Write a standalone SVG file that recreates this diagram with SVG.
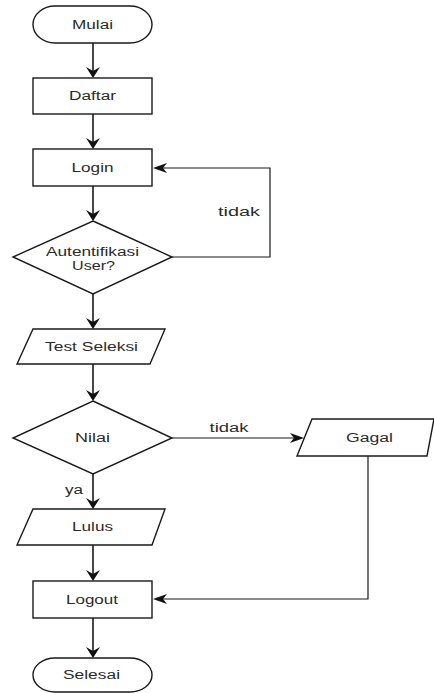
<svg xmlns="http://www.w3.org/2000/svg" width="434" height="693" viewBox="0 0 434 693">
  <style>
    .shape { fill: #ffffff; stroke: #1a1a1a; stroke-width: 1.4; }
    .label { font-family: "Liberation Sans", Arial, sans-serif; font-size: 12px; fill: #2b2b2b; text-anchor: middle; }
    .edge { fill: none; stroke: #1a1a1a; stroke-width: 1.6; }
    .edge-h { fill: none; stroke: #1a1a1a; stroke-width: 1.2; }
    .head { fill: #111111; stroke: none; }
  </style>
  <defs>
    <!-- notched arrowheads, tip at origin -->
    <path id="head-down" class="head" d="M0,0 L-7,-11 L0,-7 L7,-11 Z"/>
    <path id="head-left" class="head" d="M0,0 L14,-5 L10,0 L14,5 Z"/>
    <path id="head-right" class="head" d="M0,0 L-14,-5 L-10,0 L-14,5 Z"/>
  </defs>

  <g id="connectors">
    <line class="edge" x1="93" y1="43" x2="93" y2="74"/>
    <use href="#head-down" x="93" y="78"/>
    <line class="edge" x1="93" y1="114" x2="93" y2="145"/>
    <use href="#head-down" x="93" y="149"/>
    <line class="edge" x1="93" y1="186" x2="93" y2="217"/>
    <use href="#head-down" x="93" y="221"/>
    <polyline class="edge-h" points="172,257 270,257 270,168 163,168"/>
    <use href="#head-left" x="153" y="168"/>
    <text class="label" x="239" y="216" textLength="42" lengthAdjust="spacingAndGlyphs">tidak</text>
    <line class="edge" x1="93" y1="294" x2="93" y2="325"/>
    <use href="#head-down" x="93" y="329"/>
    <line class="edge" x1="93" y1="364" x2="93" y2="397"/>
    <use href="#head-down" x="93" y="401"/>
    <line class="edge-h" x1="172" y1="438" x2="294" y2="438"/>
    <use href="#head-right" x="304" y="438"/>
    <text class="label" x="229" y="432" textLength="39" lengthAdjust="spacingAndGlyphs">tidak</text>
    <line class="edge" x1="93" y1="474" x2="93" y2="505"/>
    <use href="#head-down" x="93" y="509"/>
    <text class="label" x="74" y="494" textLength="18" lengthAdjust="spacingAndGlyphs">ya</text>
    <line class="edge" x1="93" y1="545" x2="93" y2="577"/>
    <use href="#head-down" x="93" y="581"/>
    <polyline class="edge-h" points="368,456 368,599 163,599"/>
    <use href="#head-left" x="153" y="599"/>
    <line class="edge" x1="93" y1="618" x2="93" y2="654"/>
    <use href="#head-down" x="93" y="658"/>
  </g>

  <g id="mulai">
    <rect class="shape" x="33" y="6" width="119" height="37" rx="22" ry="18.5"/>
    <text class="label" x="92.5" y="29" textLength="41" lengthAdjust="spacingAndGlyphs">Mulai</text>
  </g>
  <g id="daftar">
    <rect class="shape" x="33" y="78" width="119" height="36"/>
    <text class="label" x="92.5" y="100" textLength="47" lengthAdjust="spacingAndGlyphs">Daftar</text>
  </g>
  <g id="login">
    <rect class="shape" x="33" y="149" width="119" height="37"/>
    <text class="label" x="92.5" y="172" textLength="42" lengthAdjust="spacingAndGlyphs">Login</text>
  </g>
  <g id="autentifikasi">
    <polygon class="shape" points="93,221 172,257 93,294 13,257"/>
    <text class="label" x="92.5" y="256" textLength="93" lengthAdjust="spacingAndGlyphs">Autentifikasi</text>
    <text class="label" x="93.5" y="270" textLength="43" lengthAdjust="spacingAndGlyphs">User?</text>
  </g>
  <g id="test-seleksi">
    <polygon class="shape" points="33,329 165,329 150,364 17,364"/>
    <text class="label" x="91.5" y="351" textLength="93" lengthAdjust="spacingAndGlyphs">Test Seleksi</text>
  </g>
  <g id="nilai">
    <polygon class="shape" points="93,401 172,438 93,474 13,438"/>
    <text class="label" x="92.5" y="442" textLength="35" lengthAdjust="spacingAndGlyphs">Nilai</text>
  </g>
  <g id="gagal">
    <polygon class="shape" points="312,419 434,419 427,456 297,456"/>
    <text class="label" x="369.5" y="442" textLength="47" lengthAdjust="spacingAndGlyphs">Gagal</text>
  </g>
  <g id="lulus">
    <polygon class="shape" points="33,509 165,509 152,545 17,545"/>
    <text class="label" x="92.5" y="531" textLength="41" lengthAdjust="spacingAndGlyphs">Lulus</text>
  </g>
  <g id="logout">
    <rect class="shape" x="33" y="581" width="119" height="37"/>
    <text class="label" x="92" y="604" textLength="52" lengthAdjust="spacingAndGlyphs">Logout</text>
  </g>
  <g id="selesai">
    <rect class="shape" x="33" y="658" width="119" height="34" rx="22" ry="17"/>
    <text class="label" x="91.5" y="679" textLength="57" lengthAdjust="spacingAndGlyphs">Selesai</text>
  </g>
</svg>
